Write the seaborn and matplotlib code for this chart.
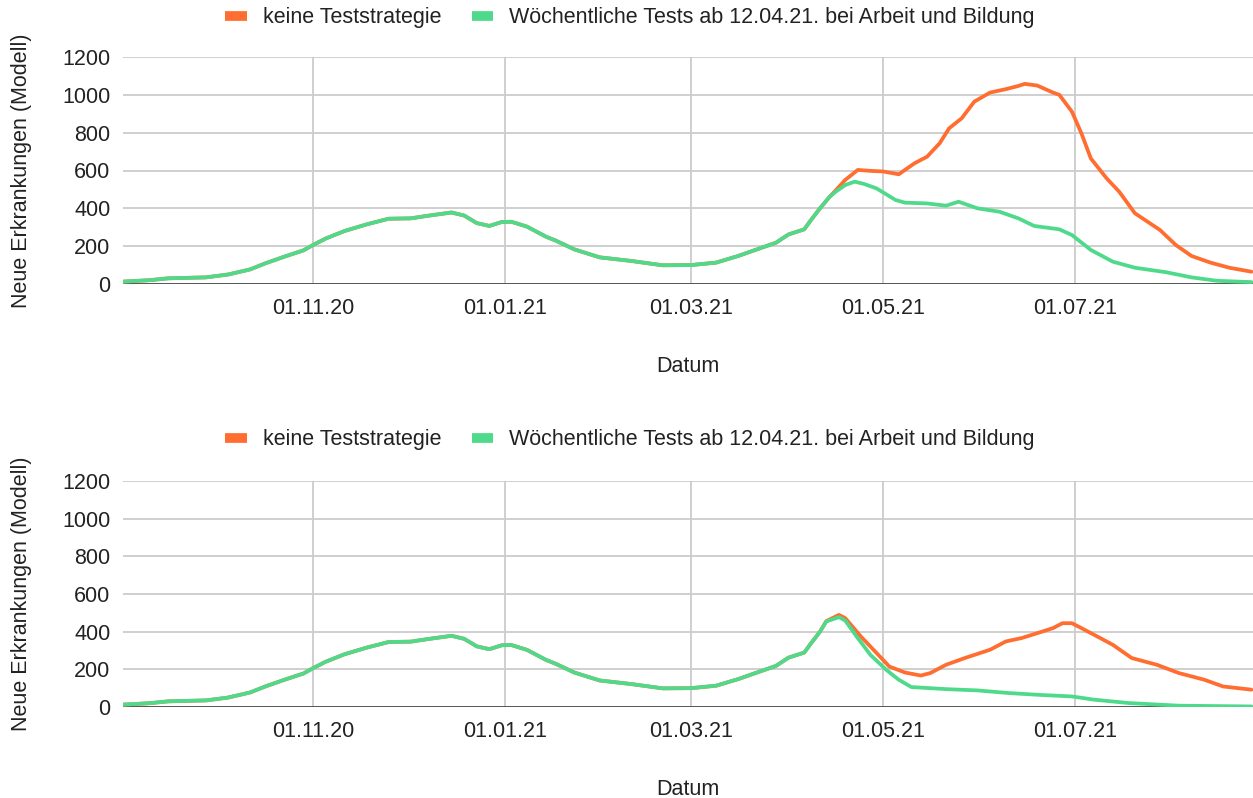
import numpy as np
import pandas as pd
import matplotlib
matplotlib.use("Agg")
import matplotlib.pyplot as plt
import matplotlib.dates as mdates
from matplotlib.lines import Line2D
import seaborn as sns

# ---------------- data ----------------
series_names = ["keine Teststrategie", "Wöchentliche Tests ab 12.04.21. bei Arbeit und Bildung"]
colors = ["#FF6D31", "#4FDA8B"]

# shared part of both scenarios (both charts) up to mid-April 2021
common_dates = ["2020-09-01", "2020-09-10", "2020-09-16", "2020-09-28", "2020-10-05", "2020-10-12",
                "2020-10-17", "2020-10-23", "2020-10-29", "2020-11-01", "2020-11-05", "2020-11-11",
                "2020-11-18", "2020-11-25", "2020-12-02", "2020-12-08", "2020-12-15", "2020-12-19",
                "2020-12-23", "2020-12-27", "2020-12-31", "2021-01-03", "2021-01-08", "2021-01-14",
                "2021-01-17", "2021-01-23", "2021-01-31", "2021-02-10", "2021-02-20", "2021-03-01",
                "2021-03-09", "2021-03-16", "2021-03-23", "2021-03-28", "2021-04-01", "2021-04-06",
                "2021-04-08", "2021-04-11"]
common_vals = [12, 20, 30, 35, 50, 77, 110, 145, 178, 206, 240, 280, 315, 345, 347, 362, 378, 362,
               322, 307, 328, 329, 303, 250, 230, 183, 141, 122, 99, 100, 113, 148, 189, 218, 262, 289,
               335, 400]

# top chart, after the split
top_orange_dates = ["2021-04-14", "2021-04-16", "2021-04-19", "2021-04-23", "2021-04-27", "2021-05-01",
                    "2021-05-06", "2021-05-11", "2021-05-15", "2021-05-19", "2021-05-22", "2021-05-26",
                    "2021-05-30", "2021-06-04", "2021-06-09", "2021-06-13", "2021-06-15", "2021-06-19",
                    "2021-06-24", "2021-06-26", "2021-06-30", "2021-07-03", "2021-07-06", "2021-07-11",
                    "2021-07-15", "2021-07-20", "2021-07-28", "2021-08-02", "2021-08-07", "2021-08-13",
                    "2021-08-19", "2021-08-26"]
top_orange_vals = [460, 495, 550, 603, 598, 595, 580, 638, 673, 744, 823, 876, 964, 1012, 1030, 1047,
                   1058, 1049, 1012, 1000, 911, 797, 664, 559, 488, 374, 285, 206, 148, 113, 86, 65]

top_green_dates = ["2021-04-14", "2021-04-16", "2021-04-19", "2021-04-22", "2021-04-25", "2021-04-29",
                   "2021-05-05", "2021-05-08", "2021-05-15", "2021-05-21", "2021-05-25", "2021-05-31",
                   "2021-06-07", "2021-06-13", "2021-06-18", "2021-06-26", "2021-06-30", "2021-07-06",
                   "2021-07-13", "2021-07-20", "2021-07-30", "2021-08-07", "2021-08-15", "2021-08-26"]
top_green_vals = [460, 488, 523, 541, 529, 505, 444, 430, 426, 414, 435, 400, 382, 347, 307, 289, 259,
                  180, 118, 86, 62, 35, 17, 10]

# bottom chart, after the split
bot_orange_dates = ["2021-04-13", "2021-04-17", "2021-04-19", "2021-04-24", "2021-04-29", "2021-05-03",
                    "2021-05-08", "2021-05-13", "2021-05-16", "2021-05-21", "2021-05-27", "2021-06-04",
                    "2021-06-09", "2021-06-14", "2021-06-19", "2021-06-24", "2021-06-27", "2021-06-30",
                    "2021-07-03", "2021-07-09", "2021-07-13", "2021-07-19", "2021-07-27", "2021-08-03",
                    "2021-08-11", "2021-08-17", "2021-08-26"]
bot_orange_vals = [456, 489, 472, 374, 286, 215, 183, 167, 180, 224, 260, 304, 348, 366, 392, 419, 445,
                   445, 419, 366, 330, 260, 224, 180, 145, 109, 92]

bot_green_dates = ["2021-04-13", "2021-04-17", "2021-04-19", "2021-04-23", "2021-04-27", "2021-05-02",
                   "2021-05-06", "2021-05-10", "2021-05-21", "2021-05-31", "2021-06-10", "2021-06-20",
                   "2021-06-30", "2021-07-07", "2021-07-18", "2021-08-03", "2021-08-26"]
bot_green_vals = [454, 477, 459, 366, 277, 198, 145, 106, 95, 88, 74, 64, 56, 39, 21, 7, 3]

y_ticks = [0, 200, 400, 600, 800, 1000, 1200]
x_tick_dates = ["2020-11-01", "2021-01-01", "2021-03-01", "2021-05-01", "2021-07-01"]


def build(orange_d, orange_v, green_d, green_v):
    frames = []
    for name, d, v in [(series_names[0], common_dates + orange_d, common_vals + orange_v),
                       (series_names[1], common_dates + green_d, common_vals + green_v)]:
        frames.append(pd.DataFrame({"Datum": pd.to_datetime(d), "Wert": v, "Serie": name}))
    return pd.concat(frames, ignore_index=True)


panels = [build(top_orange_dates, top_orange_vals, top_green_dates, top_green_vals),
          build(bot_orange_dates, bot_orange_vals, bot_green_dates, bot_green_vals)]

# ---------------- figure ----------------
sns.set_theme(style="white")
plt.rcParams["font.family"] = ["Liberation Sans", "DejaVu Sans"]

FS = 15.5
TXT = "#222222"
W, H = 1253, 798
fig = plt.figure(figsize=(W / 100, H / 100), dpi=100)

# axes rectangles in pixels: (left, top, right, bottom)
rects = [(123, 57, 1253, 284), (123, 481, 1253, 707)]
legend_y = [18, 440]

for df, (l, t, r, b), ly in zip(panels, rects, legend_y):
    ax = fig.add_axes([l / W, 1 - b / H, (r - l) / W, (b - t) / H])
    sns.lineplot(data=df, x="Datum", y="Wert", hue="Serie", hue_order=series_names,
                 palette=colors, linewidth=2.7, ax=ax, legend=False)
    ax.set_ylim(0, 1200)
    ax.set_xlim(pd.Timestamp("2020-09-01 16:00"), pd.Timestamp("2021-08-26 12:00"))
    ax.set_yticks(y_ticks)
    ax.set_xticks(pd.to_datetime(x_tick_dates))
    ax.xaxis.set_major_formatter(mdates.DateFormatter("%d.%m.%y"))
    ax.grid(True, color="#cccccc", linewidth=1.3)
    ax.set_axisbelow(True)
    for s in ax.spines.values():
        s.set_visible(False)
    ax.axhline(0, color="#333333", linewidth=1.8, zorder=1)
    ax.tick_params(axis="both", length=0, labelsize=FS, colors=TXT)
    ax.tick_params(axis="y", pad=9)
    ax.tick_params(axis="x", pad=10)
    ax.set_ylabel("Neue Erkrankungen (Modell)", fontsize=FS, color=TXT, labelpad=22)
    ax.set_xlabel("Datum", fontsize=FS, color=TXT, labelpad=27)

    handles = [Line2D([0], [0], color=c, linewidth=7, solid_capstyle="butt") for c in colors]
    fig.legend(handles, series_names, loc="center", bbox_to_anchor=(630 / W, 1 - ly / H),
               ncol=2, frameon=False, fontsize=FS, handlelength=1.0, handletextpad=0.75,
               columnspacing=1.4, labelcolor=TXT)

fig.savefig("out.png", dpi=100)
